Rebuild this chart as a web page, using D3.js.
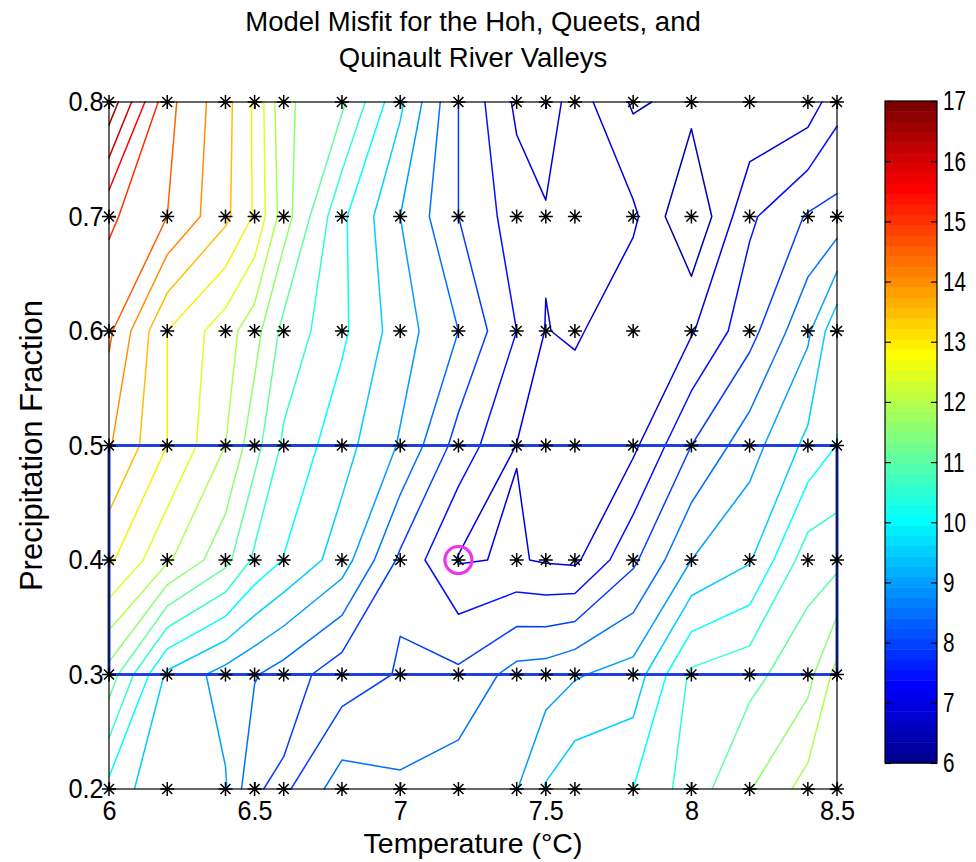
<!DOCTYPE html>
<html>
<head>
<meta charset="utf-8">
<script src="https://cdn.jsdelivr.net/npm/d3@7"></script>
<style>
  body { margin: 0; background: #fff; }
  text { font-family: "Liberation Sans", Arial, sans-serif; fill: #000; }
</style>
</head>
<body>
<svg id="chart" width="976" height="862"></svg>
<script>
// Grid of model runs: temperature (°C) columns and precipitation-fraction rows
const temperatures = [6, 6.2, 6.4, 6.5, 6.6, 6.8, 7, 7.2, 7.4, 7.5, 7.6, 7.8, 8, 8.2, 8.4, 8.5];
const precipFractions = [0.2, 0.3, 0.4, 0.5, 0.6, 0.7, 0.8];

// Misfit at each run, one array per precipitation fraction
const misfitP02 = [9.85, 9.05, 9.05, 8.05, 7.89, 8.77, 8.59, 8.8, 8.98, 9.55, 9.9, 10.0, 10.74, 11.47, 12.2, 12.3];
const misfitP03 = [11.3, 9.4, 8.8, 8.54, 8.28, 7.7, 8.05, 8.1, 8.69, 8.75, 8.95, 9.2, 10.6, 10.85, 11.32, 12.18];
const misfitP04 = [13.1, 12.08, 11.16, 10.4, 9.98, 9.25, 7.9, 6.96, 7.04, 6.95, 6.9, 7.9, 9.0, 9.45, 10.78, 10.85];
const misfitP05 = [14.05, 13.0, 12.0, 11.19, 10.41, 9.7, 8.95, 7.8, 6.99, 6.75, 6.55, 6.89, 8.0, 8.79, 9.63, 10.01];
const misfitP06 = [14.6, 13.0, 12.22, 11.7, 10.85, 10.1, 9.24, 8.5, 7.5, 6.98, 7.09, 6.55, 6.95, 7.82, 8.9, 9.9];
const misfitP07 = [15.1, 14.5, 13.62, 12.94, 11.74, 10.1, 9.0, 8.0, 7.25, 7.05, 7.25, 7.1, 6.01, 7.41, 8.05, 8.17];
const misfitP08 = [16.85, 14.66, 13.68, 12.92, 11.6, 11.1, 9.6, 8.0, 6.9, 6.7, 7.26, 6.43, 6.65, 6.55, 6.7, 7.32];

const contourLevels = [6.5, 7, 7.5, 8, 8.5, 9, 9.5, 10, 10.5, 11, 11.5, 12, 12.5, 13, 13.5, 14, 14.5, 15, 15.5, 16, 16.5];
const colorLimits = [6, 17];
const xTickValues = [6, 6.5, 7, 7.5, 8, 8.5];
const yTickValues = [0.2, 0.3, 0.4, 0.5, 0.6, 0.7, 0.8];
const colorbarTicks = [6, 7, 8, 9, 10, 11, 12, 13, 14, 15, 16, 17];
const bestFit = { temperature: 7.2, precip: 0.4 };
const focusBand = { temperature: [6, 8.5], precip: [0.3, 0.5] };

const titleLines = ["Model Misfit for the Hoh, Queets, and", "Quinault River Valleys"];
const xLabel = "Temperature (\u00B0C)";
const yLabel = "Precipitation Fraction";

// ---- jet colormap (64 entries) ----
function jet(m) {
  const n = Math.ceil(m / 4);
  const u = [];
  for (let i = 1; i <= n; i++) u.push(i / n);
  for (let i = 1; i < n; i++) u.push(1);
  for (let i = n; i >= 1; i--) u.push(i / n);
  const off = Math.ceil(n / 2) - (m % 4 === 1 ? 1 : 0);
  const map = d3.range(m).map(() => [0, 0, 0]);
  u.forEach((val, k) => {
    const g = off + k + 1, r = g + n, b = g - n;
    if (g >= 1 && g <= m) map[g - 1][1] = val;
    if (r >= 1 && r <= m) map[r - 1][0] = val;
    if (b >= 1 && b <= m) map[b - 1][2] = val;
  });
  return map.map(c => d3.rgb(c[0] * 255, c[1] * 255, c[2] * 255).toString());
}
const jetColors = jet(64);
const colorFor = v => {
  const t = (v - colorLimits[0]) / (colorLimits[1] - colorLimits[0]);
  return jetColors[Math.max(0, Math.min(63, Math.floor(t * 64)))];
};

// ---- layout ----
const svg = d3.select("#chart");
svg.append("rect").attr("width", 976).attr("height", 862).attr("fill", "#fff");

const plot = { left: 109, right: 837, top: 102, bottom: 789 };
const x = d3.scaleLinear().domain([6, 8.5]).range([plot.left, plot.right]);
const y = d3.scaleLinear().domain([0.2, 0.8]).range([plot.bottom, plot.top]);

// grid index -> data value (piecewise linear along the uneven run spacing)
const colToTemp = d3.scaleLinear().domain(d3.range(temperatures.length)).range(temperatures);
const rowToPrecip = d3.scaleLinear().domain(d3.range(precipFractions.length)).range(precipFractions);

const grid = [misfitP02, misfitP03, misfitP04, misfitP05, misfitP06, misfitP07, misfitP08];
const nx = temperatures.length, ny = precipFractions.length;

// ---- marching squares on the run grid (straight segments inside each cell) ----
function isoSegments(level) {
  const segs = [];
  const frac = (a, b) => (level - a) / (b - a);
  for (let j = 0; j < ny - 1; j++) {
    for (let i = 0; i < nx - 1; i++) {
      const bl = grid[j][i], br = grid[j][i + 1], tl = grid[j + 1][i], tr = grid[j + 1][i + 1];
      const aBL = bl >= level, aBR = br >= level, aTR = tr >= level, aTL = tl >= level;
      const p = {};
      if (aBL !== aBR) p.b = [i + frac(bl, br), j];
      if (aBR !== aTR) p.r = [i + 1, j + frac(br, tr)];
      if (aTL !== aTR) p.t = [i + frac(tl, tr), j + 1];
      if (aBL !== aTL) p.l = [i, j + frac(bl, tl)];
      const keys = Object.keys(p);
      if (keys.length === 2) {
        segs.push([p[keys[0]], p[keys[1]]]);
      } else if (keys.length === 4) {
        // saddle: split off the upper-left and lower-right corners
        segs.push([p.t, p.l]);
        segs.push([p.b, p.r]);
      }
    }
  }
  return segs;
}

const toPixel = ([ci, cj]) => [x(colToTemp(ci)), y(rowToPrecip(cj))];
const segPath = segs => segs.map(s => "M" + toPixel(s[0]).join(",") + "L" + toPixel(s[1]).join(",")).join("");

const isolines = contourLevels.map(level => ({ level, segs: isoSegments(level) }));

svg.append("g")
  .selectAll("path")
  .data(isolines)
  .join("path")
  .attr("d", d => segPath(d.segs))
  .attr("fill", "none")
  .attr("stroke", d => colorFor(d.level))
  .attr("stroke-width", 1.5)
  .attr("stroke-linecap", "round");

// ---- focus band (precipitation 0.3 - 0.5) ----
svg.append("rect")
  .attr("x", x(focusBand.temperature[0]))
  .attr("y", y(focusBand.precip[1]))
  .attr("width", x(focusBand.temperature[1]) - x(focusBand.temperature[0]))
  .attr("height", y(focusBand.precip[0]) - y(focusBand.precip[1]))
  .attr("fill", "none")
  .attr("stroke", "#2040e0")
  .attr("stroke-width", 3);

// ---- axes frame and ticks ----
const axes = svg.append("g");
axes.append("rect")
  .attr("x", plot.left).attr("y", plot.top)
  .attr("width", plot.right - plot.left).attr("height", plot.bottom - plot.top)
  .attr("fill", "none").attr("stroke", "#000").attr("stroke-width", 1.2);

const tickLen = 7;
const bottomAxis = d3.axisBottom(x).tickValues(xTickValues).tickSizeInner(-tickLen).tickSizeOuter(0)
  .tickPadding(11).tickFormat(d3.format("~g"));
const topAxis = d3.axisTop(x).tickValues(xTickValues).tickSizeInner(-tickLen).tickSizeOuter(0).tickFormat("");
const leftAxis = d3.axisLeft(y).tickValues(yTickValues).tickSizeInner(-tickLen).tickSizeOuter(0)
  .tickPadding(6).tickFormat(d3.format(".1f"));
const rightAxis = d3.axisRight(y).tickValues(yTickValues).tickSizeInner(-tickLen).tickSizeOuter(0).tickFormat("");

function styleAxis(g, squeeze) {
  g.select(".domain").remove();
  g.selectAll(".tick line").attr("stroke", "#000").attr("stroke-width", 1.2);
  g.selectAll(".tick text")
    .attr("font-family", "'Liberation Sans', Arial, sans-serif")
    .attr("font-size", 28)
    .attr("fill", "#000")
    .attr("transform", `scale(${squeeze || 0.9},1)`);
}
axes.append("g").attr("transform", `translate(0,${plot.bottom})`).call(bottomAxis).call(styleAxis);
axes.append("g").attr("transform", `translate(0,${plot.top})`).call(topAxis).call(styleAxis);
axes.append("g").attr("transform", `translate(${plot.left},0)`).call(leftAxis).call(styleAxis);
axes.append("g").attr("transform", `translate(${plot.right},0)`).call(rightAxis).call(styleAxis);

// ---- run markers ('*') ----
const starPath = "M-7,0H7M0,-7V7M-5,-5L5,5M-5,5L5,-5";
const runs = [];
precipFractions.forEach(p => temperatures.forEach(t => runs.push({ t, p })));
svg.append("g").selectAll("path")
  .data(runs)
  .join("path")
  .attr("transform", d => `translate(${x(d.t)},${y(d.p)})`)
  .attr("d", starPath)
  .attr("stroke", "#000")
  .attr("stroke-width", 1.5)
  .attr("fill", "none");

// ---- best-fit marker ----
svg.append("circle")
  .attr("cx", x(bestFit.temperature))
  .attr("cy", y(bestFit.precip))
  .attr("r", 13.5)
  .attr("fill", "none")
  .attr("stroke", "#ee33ee")
  .attr("stroke-width", 3.2);

// ---- titles and labels ----
svg.append("g").selectAll("text")
  .data(titleLines)
  .join("text")
  .attr("x", (plot.left + plot.right) / 2)
  .attr("y", (d, i) => 31 + i * 36)
  .attr("text-anchor", "middle")
  .attr("font-size", 27.5)
  .text(d => d);

svg.append("text")
  .attr("x", (plot.left + plot.right) / 2)
  .attr("y", 853)
  .attr("text-anchor", "middle")
  .attr("font-size", 28.5)
  .text(xLabel);

svg.append("text")
  .attr("transform", `translate(42,${(plot.top + plot.bottom) / 2}) rotate(-90)`)
  .attr("text-anchor", "middle")
  .attr("font-size", 31)
  .text(yLabel);

// ---- colorbar ----
const cb = { left: 885, right: 937, top: 101, bottom: 763 };
const cbScale = d3.scaleLinear().domain(colorLimits).range([cb.bottom, cb.top]);
const cbG = svg.append("g");
const step = (colorLimits[1] - colorLimits[0]) / jetColors.length;
cbG.selectAll("rect.cell")
  .data(jetColors)
  .join("rect")
  .attr("class", "cell")
  .attr("x", cb.left)
  .attr("width", cb.right - cb.left)
  .attr("y", (c, i) => cbScale(colorLimits[0] + (i + 1) * step))
  .attr("height", (c, i) => cbScale(colorLimits[0] + i * step) - cbScale(colorLimits[0] + (i + 1) * step) + 0.5)
  .attr("fill", c => c);
cbG.append("rect")
  .attr("x", cb.left).attr("y", cb.top)
  .attr("width", cb.right - cb.left).attr("height", cb.bottom - cb.top)
  .attr("fill", "none").attr("stroke", "#000").attr("stroke-width", 1.2);
const cbAxis = d3.axisRight(cbScale).tickValues(colorbarTicks).tickSizeInner(-6).tickSizeOuter(0).tickPadding(8);
cbG.append("g").attr("transform", `translate(${cb.right},0)`).call(cbAxis).call(g => styleAxis(g, 0.74));
const cbLeftAxis = d3.axisLeft(cbScale).tickValues(colorbarTicks).tickSizeInner(-6).tickSizeOuter(0).tickFormat("");
cbG.append("g").attr("transform", `translate(${cb.left},0)`).call(cbLeftAxis).call(styleAxis);
</script>
</body>
</html>
